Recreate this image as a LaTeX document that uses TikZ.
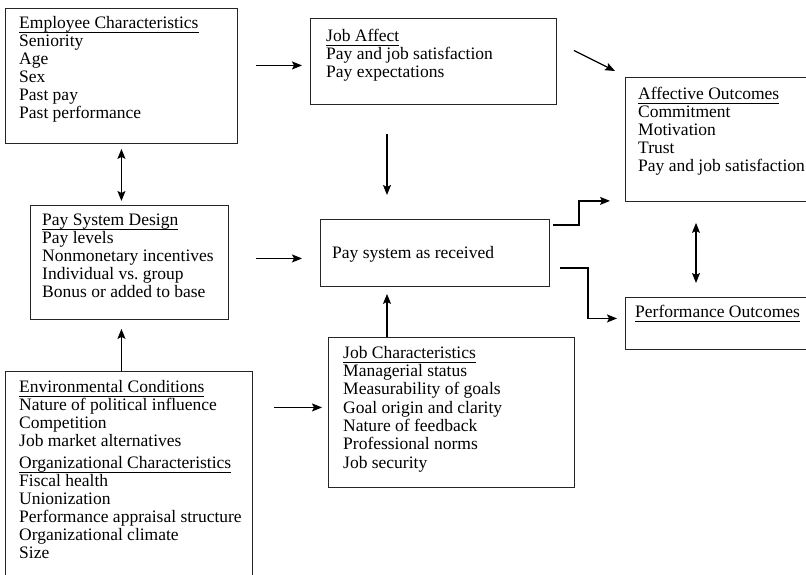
\documentclass[tikz,border=0pt]{standalone}
\usepackage{fontspec}
\setmainfont{Liberation Serif}
\usepackage{xcolor}
\usetikzlibrary{arrows.meta}
\newcommand{\hdline}[1]{\rule{0pt}{14bp}\underline{\smash{#1}\rule[-2.3bp]{0pt}{0pt}}}

\begin{document}
\begin{tikzpicture}[x=1bp, y=-1bp,
    box/.style={draw=black!85, line width=0.9bp, anchor=north west, inner sep=0pt},
    txt/.style={anchor=north west, align=left, inner sep=0pt, font=\fontsize{17.5bp}{18bp}\selectfont},
    arr/.style={-{Stealth[length=10bp, width=8bp, inset=2bp]}, line width=1.2bp},
    dbl/.style={{Stealth[length=10bp, width=8bp, inset=2bp]}-{Stealth[length=10bp, width=8bp, inset=2bp]}, line width=1.2bp}]
    \clip (0,0) rectangle (806,575);
    \node[box, minimum width=232bp, minimum height=135bp] (employee) at (5,8) {};
    \node[box, minimum width=246bp, minimum height=86bp] (jobaffect) at (310,18) {};
    \node[box, minimum width=200bp, minimum height=124bp] (affective) at (625,77) {};
    \node[box, minimum width=198bp, minimum height=114bp] (design) at (30,205) {};
    \node[box, minimum width=229bp, minimum height=67bp] (received) at (320,219) {};
    \node[box, minimum width=200bp, minimum height=52bp] (performance) at (625,297) {};
    \node[box, minimum width=247bp, minimum height=230bp] (environ) at (5,371) {};
    \node[box, minimum width=246bp, minimum height=150bp] (jobchar) at (328,337) {};

    \node[txt] (employee-t) at (19,14) {\hdline{Employee Characteristics}\\Seniority\\Age\\Sex\\Past pay\\Past performance};
    \node[txt] (jobaffect-t) at (326,27) {\hdline{Job Affect}\\Pay and job satisfaction\\Pay expectations};
    \node[txt] (affective-t) at (638,85) {\hdline{Affective Outcomes}\\Commitment\\Motivation\\Trust\\Pay and job satisfaction};
    \node[txt] (design-t) at (42,211) {\hdline{Pay System Design}\\Pay levels\\Nonmonetary incentives\\Individual vs.\ group\\Bonus or added to base};
    \node[txt] (received-t) at (332,246) {Pay system as received};
    \node[txt] (performance-t) at (635,303) {\hdline{Performance Outcomes}};
    \node[txt] (environ-t) at (19,378) {\hdline{Environmental Conditions}\\Nature of political influence\\Competition\\Job market alternatives\\[4bp]\hdline{Organizational Characteristics}\\Fiscal health\\Unionization\\Performance appraisal structure\\Organizational climate\\Size};
    \node[txt] (jobchar-t) at (343,344) {\hdline{Job Characteristics}\\[0.3bp]Managerial status\\[0.3bp]Measurability of goals\\[0.3bp]Goal origin and clarity\\[0.3bp]Nature of feedback\\[0.3bp]Professional norms\\[0.3bp]Job security};

    \draw[arr, shorten <=18bp, shorten >=8bp] ([shift={(0,4)}]employee.east |- jobaffect.west) -- ([shift={(0,4)}]jobaffect.west);
    \draw[arr] ([shift={(17,-11)}]jobaffect.east) -- ([shift={(-10,-6)}]affective.north west);
    \draw[arr, shorten <=29bp, shorten >=24bp] ([shift={(67,0)}]received.north west |- jobaffect.south) -- ([shift={(67,0)}]received.north west);
    \draw[dbl, shorten <=5bp, shorten >=4bp] (employee.south) -- (employee.south |- design.north);
    \draw[arr, shorten <=27bp, shorten >=18bp] ([shift={(0,-4)}]design.east) -- ([shift={(0,-4)}]design.east -| received.west);
    \draw[arr, shorten >=9bp] (employee.south |- environ.north) -- (employee.south |- design.south);
    \draw[arr, shorten <=21bp, shorten >=6bp] ([shift={(0,-5)}]jobchar.west -| environ.east) -- ([shift={(0,-5)}]jobchar.west);
    \draw[arr, shorten >=7bp] ([shift={(67,0)}]received.north west |- jobchar.north) -- ([shift={(67,0)}]received.south west);
    \draw[arr] ([shift={(3,6)}]received.north east) -- ++(26,0) |- ([shift={(-15,-1)}]affective.south west);
    \draw[arr] ([shift={(10,-19)}]received.south east) -- ++(28,0) |- ([shift={(-8,-5)}]performance.west);
    \draw[dbl] ([shift={(71,21)}]affective.south west) -- ([shift={(71,-14)}]performance.north west);
\end{tikzpicture}
\end{document}
